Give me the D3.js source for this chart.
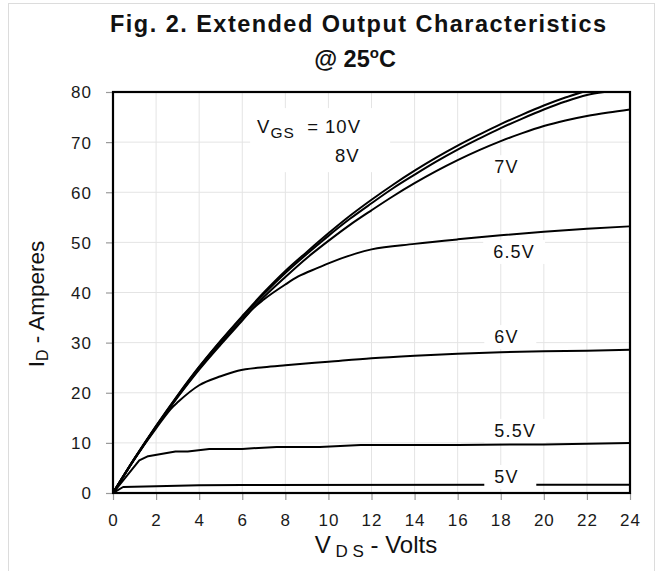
<!DOCTYPE html>
<html><head><meta charset="utf-8">
<script src="https://cdn.jsdelivr.net/npm/d3@7"></script>
<style>
html,body{margin:0;padding:0;background:#fff;}
text{font-family:"Liberation Sans",Arial,Helvetica,sans-serif;}
</style></head>
<body><svg id="c" width="656" height="571"></svg>
<script>
// ---- data ----
const xTicks = [0,2,4,6,8,10,12,14,16,18,20,22,24];
const yTicks = [0,10,20,30,40,50,60,70,80];

const vds10 = [0,1,2,3,4,5,6,7,8,9,10,11,12,13,14,15,16,17,18,19,20,21,21.8];
const id10  = [0,6.9,13.4,19.5,25.2,30.4,35.3,40.0,44.3,48.1,51.8,55.3,58.5,61.5,64.3,66.9,69.3,71.5,73.6,75.5,77.3,78.9,80];

const vds8 = [0,1,2,3,4,5,6,7,8,9,10,11,12,13,14,15,16,17,18,19,20,21,22,22.8];
const id8  = [0,6.9,13.3,19.4,25.1,30.3,35.1,39.7,43.9,47.7,51.3,54.7,57.8,60.8,63.5,66.1,68.5,70.7,72.8,74.7,76.5,78.1,79.4,80];

const vds7 = [0,1,2,3,4,5,6,7,8,9,10,11,12,13,14,15,16,17,18,19,20,21,22,23,24];
const id7  = [0,6.8,13.2,19.2,24.8,29.9,34.6,39.1,43.1,46.9,50.3,53.5,56.4,59.2,61.8,64.2,66.4,68.4,70.2,71.8,73.2,74.3,75.2,75.9,76.5];

const vds65 = [0,1,2,3,4,5,6,6.5,7,8,8.6,9.5,10,11.3,12,14,16,18,20,22,24];
const id65  = [0,6.8,13.2,19.1,24.6,29.6,34.4,36.8,38.6,41.6,43.2,44.9,45.8,47.8,48.6,49.7,50.6,51.4,52.1,52.7,53.2];

const vds6 = [0,1,2,2.8,3,4,5,5.8,7,8,10,12,14,16,18,20,22,24];
const id6  = [0,6.8,12.9,17.3,18.1,21.5,23.3,24.4,25.1,25.5,26.2,26.9,27.4,27.8,28.1,28.3,28.4,28.6];

const vds55 = [0,1.22,1.63,2.9,3.47,4.47,6,7.6,9.6,11.5,16,20,24];
const id55  = [0,6.5,7.35,8.3,8.3,8.8,8.8,9.2,9.2,9.6,9.6,9.7,10.0];

const vds5 = [0,0.47,2,4,6,24];
const id5  = [0,1.2,1.35,1.55,1.6,1.65];

const seriesNames = ["10V","8V","7V","6.5V","6V","5.5V","5V"];
const seriesX = [vds10,vds8,vds7,vds65,vds6,vds55,vds5];
const seriesY = [id10,id8,id7,id65,id6,id55,id5];
const smooth  = [true,true,true,true,true,false,false];

// curve labels: text, x (V), y (A) of baseline-left
const labelText = ["7V","6.5V","6V","5.5V","5V"];
const labelX    = [17.7,17.65,17.7,17.7,17.7];
const labelY    = [63.8,46.9,29.9,11.2,2.0];

// ---- layout ----
const svg = d3.select("#c");
const L=113, R=630, T=92, B=493;
const x = d3.scaleLinear().domain([0,24]).range([L,R]);
const y = d3.scaleLinear().domain([0,80]).range([B,T]);

// outer frame
svg.append("rect").attr("x",8.5).attr("y",3.5).attr("width",646).attr("height",620)
  .attr("fill","none").attr("stroke","#dcdcdc").attr("stroke-width",1);

// grid
const g = svg.append("g");
g.selectAll(".vg").data(xTicks.slice(1,-1)).join("line")
  .attr("x1",d=>x(d)).attr("x2",d=>x(d)).attr("y1",T).attr("y2",B)
  .attr("stroke","#e4e4e4").attr("stroke-width",1);
g.selectAll(".hg").data(yTicks.slice(1,-1)).join("line")
  .attr("x1",L).attr("x2",R).attr("y1",d=>y(d)).attr("y2",d=>y(d))
  .attr("stroke","#e4e4e4").attr("stroke-width",1);

// axes (ticks + labels)
const xAxis = d3.axisBottom(x).tickValues(xTicks).tickSize(7).tickPadding(10).tickFormat(d3.format("d"));
const yAxis = d3.axisLeft(y).tickValues(yTicks).tickSize(7).tickPadding(14).tickFormat(d3.format("d"));
const gx = svg.append("g").attr("transform",`translate(0,${B})`).call(xAxis);
const gy = svg.append("g").attr("transform",`translate(${L},0)`).call(yAxis);
[gx,gy].forEach(a=>{
  a.select(".domain").remove();
  a.selectAll(".tick line").attr("stroke","#9a9a9a").attr("stroke-width",1.2);
  a.selectAll(".tick text").attr("font-size",17).attr("fill","#1a1a1a")
   .attr("font-family","Liberation Sans, Arial, sans-serif").style("letter-spacing","1px");
});
gx.selectAll(".tick text").attr("dy","0.95em");
gy.selectAll(".tick text").attr("dy","0.35em");

// curves
svg.append("clipPath").attr("id","pc").append("rect")
  .attr("x",L).attr("y",T).attr("width",R-L).attr("height",B-T);
const cg = svg.append("g").attr("clip-path","url(#pc)");
seriesNames.forEach((n,i)=>{
  const pts = seriesX[i].map((v,j)=>[v,seriesY[i][j]]);
  const line = d3.line().x(d=>x(d[0])).y(d=>y(d[1]))
    .curve(smooth[i]?d3.curveMonotoneX:d3.curveLinear);
  cg.append("path").datum(pts).attr("d",line)
    .attr("fill","none").attr("stroke","#000").attr("stroke-width",2)
    .attr("stroke-linejoin","round");
});

// annotation labels with white boxes
const ag = svg.append("g");
labelText.forEach((t,i)=>{
  const tx = ag.append("text").attr("x",x(labelX[i])).attr("y",y(labelY[i]))
    .attr("font-size",18).attr("fill","#111").style("letter-spacing","1.2px").text(t);
  const bb = tx.node().getBBox();
  ag.insert("rect","text").attr("x",bb.x-10).attr("y",bb.y-2)
    .attr("width",Math.max(bb.width+20,52)).attr("height",bb.height+4).attr("fill","#fff");
});

// VGS label box
const vg = svg.append("g");
const vgsText = vg.append("text").attr("x",x(6.69)).attr("y",y(71.8))
  .attr("font-size",18.5).attr("fill","#111").style("letter-spacing","1px");
vgsText.append("tspan").text("V");
vgsText.append("tspan").attr("font-size",15.5).attr("dy",5).text("GS");
vgsText.append("tspan").attr("dy",-5).text(" \u00a0= 10V");
const eightV = vg.append("text").attr("x",x(10.3)).attr("y",y(66))
  .attr("font-size",18.5).attr("fill","#111").style("letter-spacing","1px").text("8V");
const b1 = vgsText.node().getBBox(), b2 = eightV.node().getBBox();
vg.insert("rect","text").attr("x",b1.x-7).attr("y",b1.y-8)
  .attr("width",140).attr("height",(b2.y+b2.height)-b1.y+14).attr("fill","#fff");

// plot frame
svg.append("rect").attr("x",L).attr("y",T).attr("width",R-L).attr("height",B-T)
  .attr("fill","none").attr("stroke","#000").attr("stroke-width",2.2);

// titles
svg.append("text").attr("x",358).attr("y",32).attr("text-anchor","middle")
  .attr("font-size",23.5).attr("font-weight","bold").attr("fill","#111")
  .attr("textLength",496).attr("lengthAdjust","spacing")
  .text("Fig. 2. Extended Output Characteristics");
const t2 = svg.append("text").attr("x",355).attr("y",67).attr("text-anchor","middle")
  .attr("font-size",23.5).attr("font-weight","bold").attr("fill","#111");
t2.append("tspan").text("@ 25");
t2.append("tspan").attr("font-size",15).attr("dy",-9).text("o");
t2.append("tspan").attr("dy",9).text("C");

// x axis title
const xt = svg.append("text").attr("x",376).attr("y",553).attr("text-anchor","middle")
  .attr("font-size",24).attr("fill","#111");
xt.append("tspan").text("V");
xt.append("tspan").attr("font-size",17).attr("dy",4).text(" D S");
xt.append("tspan").attr("dy",-4).text(" - Volts");

// y axis title
const yt = svg.append("text").attr("transform","translate(44,304) rotate(-90)")
  .attr("text-anchor","middle").attr("font-size",22.5).attr("fill","#111");
yt.append("tspan").text("I");
yt.append("tspan").attr("font-size",16).attr("dy",4).text("D");
yt.append("tspan").attr("dy",-4).text(" - Amperes");
</script></body></html>
